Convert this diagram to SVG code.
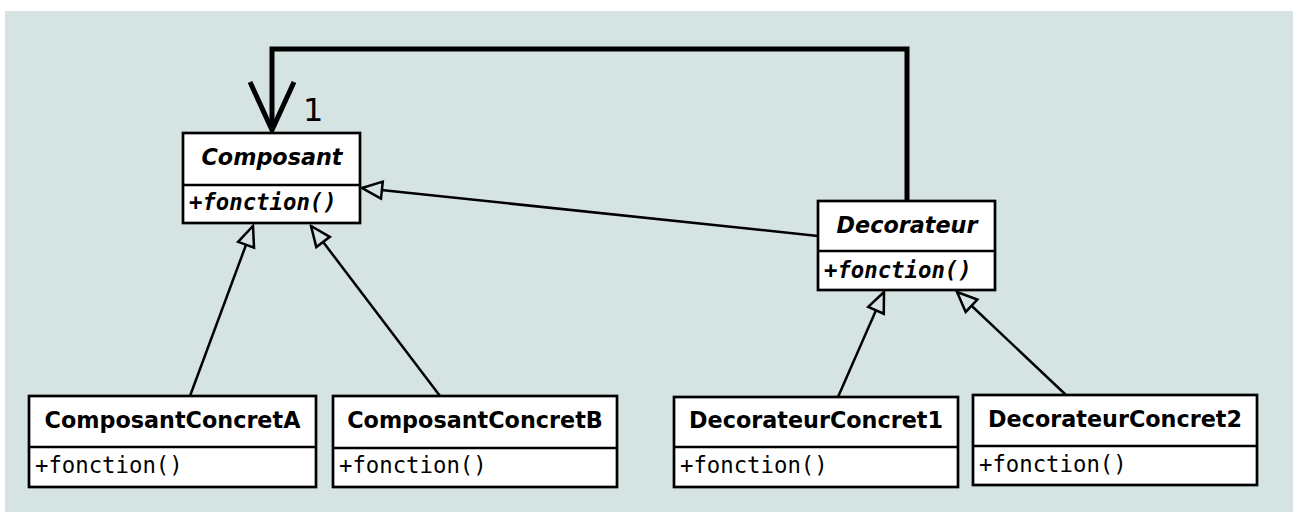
<svg xmlns="http://www.w3.org/2000/svg" width="1293" height="512" viewBox="0 0 1293 512">
  <style>
    .box { fill: #ffffff; stroke: #000000; stroke-width: 2.7; }
    .sep { stroke: #000000; stroke-width: 2.7; }
    .title { font-family: "DejaVu Sans", "Liberation Sans", sans-serif; font-weight: bold; font-size: 22.3px; text-anchor: middle; fill: #000; }
    .abstract { font-style: italic; }
    .op { font-family: "DejaVu Sans Mono", "Liberation Mono", monospace; font-size: 22.3px; fill: #000; }
    .op-abstract { font-weight: bold; font-style: italic; }
    .gen { stroke: #000; stroke-width: 2.5; fill: none; marker-end: url(#hollow); }
    .assoc { stroke: #000; stroke-width: 5; fill: none; stroke-linejoin: miter; }
    .mult { font-family: "DejaVu Sans", "Liberation Sans", sans-serif; font-size: 32px; fill: #000; }
  </style>
  <defs>
    <!-- hollow triangle for generalization -->
    <marker id="hollow" markerUnits="userSpaceOnUse" viewBox="-2 -11 24 22" markerWidth="24" markerHeight="22" refX="20" refY="0" orient="auto">
      <path d="M0,-8.5 L20,0 L0,8.5 Z" fill="#d6e3e3" stroke="#000" stroke-width="2.5" stroke-linejoin="miter"/>
    </marker>
  </defs>

  <rect x="5" y="11" width="1288" height="501" fill="#d6e3e3"/>

  <g id="connectors">
    <!-- association Decorateur -> Composant -->
    <polyline class="assoc" points="907,201 907,49 272,49 272,128"/>
    <polyline class="assoc" points="250,82 272,130 294,82"/>
    <text class="mult" x="303" y="121">1</text>
    <!-- generalizations -->
    <line class="gen" x1="818" y1="236" x2="362" y2="188"/>
    <line class="gen" x1="190" y1="396" x2="253" y2="226"/>
    <line class="gen" x1="440" y1="396" x2="311" y2="226"/>
    <line class="gen" x1="838" y1="397" x2="884" y2="292"/>
    <line class="gen" x1="1066" y1="395" x2="957" y2="292"/>
  </g>

  <g id="composant">
    <rect class="box" x="183" y="133" width="177" height="90"/>
    <line class="sep" x1="183" y1="185" x2="360" y2="185"/>
    <text class="title abstract" x="272" y="165">Composant</text>
    <text class="op op-abstract" x="189" y="210">+fonction()</text>
  </g>

  <g id="decorateur">
    <rect class="box" x="818" y="201" width="177" height="89"/>
    <line class="sep" x1="818" y1="251" x2="995" y2="251"/>
    <text class="title abstract" x="907" y="233">Decorateur</text>
    <text class="op op-abstract" x="824" y="278">+fonction()</text>
  </g>

  <g id="composantConcretA">
    <rect class="box" x="29" y="396" width="287" height="91"/>
    <line class="sep" x1="29" y1="447" x2="316" y2="447"/>
    <text class="title" x="172.5" y="428">ComposantConcretA</text>
    <text class="op" x="35" y="473">+fonction()</text>
  </g>

  <g id="composantConcretB">
    <rect class="box" x="333" y="396" width="284" height="91"/>
    <line class="sep" x1="333" y1="448" x2="617" y2="448"/>
    <text class="title" x="475" y="428">ComposantConcretB</text>
    <text class="op" x="339" y="473">+fonction()</text>
  </g>

  <g id="decorateurConcret1">
    <rect class="box" x="674" y="397" width="284" height="90"/>
    <line class="sep" x1="674" y1="447" x2="958" y2="447"/>
    <text class="title" x="816" y="428">DecorateurConcret1</text>
    <text class="op" x="680" y="473">+fonction()</text>
  </g>

  <g id="decorateurConcret2">
    <rect class="box" x="973" y="395" width="284" height="90"/>
    <line class="sep" x1="973" y1="446" x2="1257" y2="446"/>
    <text class="title" x="1115" y="427">DecorateurConcret2</text>
    <text class="op" x="979" y="472">+fonction()</text>
  </g>
</svg>
